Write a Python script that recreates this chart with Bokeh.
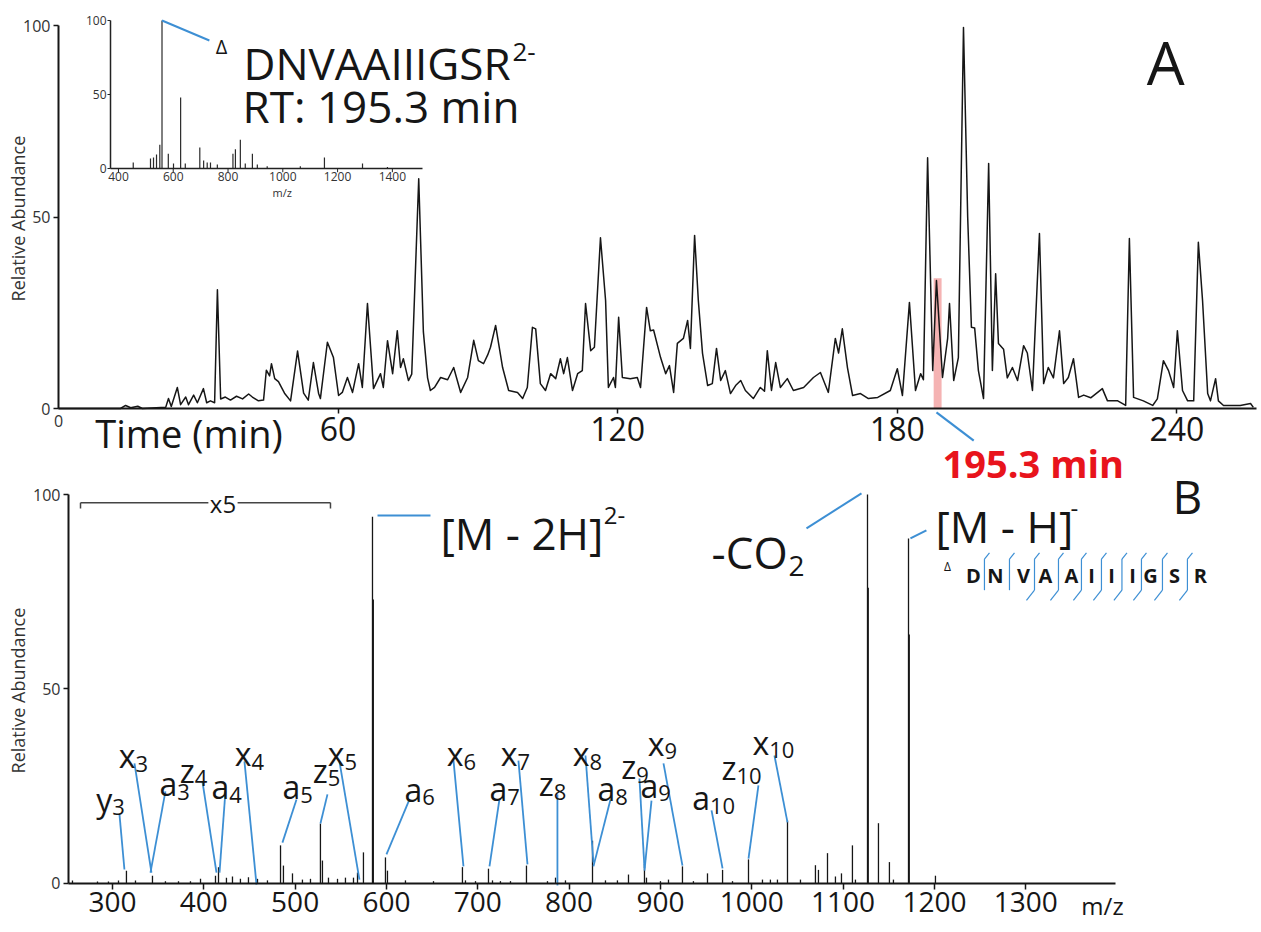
import math
from bokeh.plotting import figure
from bokeh.models import Range1d, LinearAxis, FixedTicker
from bokeh.core.properties import value
from bokeh.embed import file_html
from bokeh.resources import INLINE

FONT = "Open Sans"
INK = "#161616"
GREY = "#333333"
BLUE = "#3d8fd4"
RED = "#e8141c"

# ---------------- Panel A : base-peak chromatogram ----------------
time_min = [
    0, 13.3, 14.4, 15.5, 17.0, 18.0, 23.0, 23.6, 24.2, 25.5,
    26.2, 27.3, 27.9, 29.0, 29.8, 31.1, 31.8, 32.6, 33.5, 34.1,
    34.8, 35.8, 36.9, 38.2, 39.5, 40.8, 41.6, 42.9, 44.0, 44.6,
    45.3, 45.7, 46.4, 47.2, 48.5, 49.8, 51.3, 52.6, 53.6, 54.7,
    55.8, 56.2, 57.7, 59.0, 60.1, 60.9, 62.0, 63.1, 64.4, 65.2,
    66.3, 67.6, 69.1, 69.7, 70.6, 71.7, 72.7, 73.4, 74.0, 75.1,
    75.8, 77.3, 78.3, 79.2, 79.8, 80.7, 82.0, 83.5, 84.8, 86.3,
    87.8, 89.1, 90.1, 91.2, 92.1, 92.7, 93.8, 95.3, 96.6, 98.5,
    99.6, 100.6, 101.7, 102.4, 103.4, 104.5, 105.6, 106.7, 107.7, 108.4,
    109.2, 110.3, 111.4, 112.4, 113.1, 114.2, 115.0, 116.3, 117.4, 118.0,
    119.1, 119.5, 120.2, 121.0, 122.7, 124.2, 124.9, 126.2, 127.0, 127.7,
    129.2, 130.3, 131.1, 132.0, 132.8, 134.1, 135.0, 135.6, 136.5, 137.3,
    138.2, 139.3, 140.3, 141.2, 142.1, 143.1, 144.2, 145.3, 146.4, 147.4,
    149.1, 150.6, 151.5, 152.1, 153.0, 153.9, 154.9, 156.4, 157.7, 159.9,
    162.0, 163.5, 165.2, 166.7, 167.4, 168.2, 169.3, 170.4, 172.1, 173.8,
    175.8, 178.5, 180.0, 181.1, 182.6, 183.9, 185.0, 185.6, 186.5, 187.6,
    188.4, 189.7, 190.8, 191.2, 192.1, 193.1, 194.2, 195.1, 195.9, 196.6,
    197.4, 198.5, 199.6, 200.4, 201.1, 201.7, 202.8, 203.6, 204.7, 205.8,
    207.1, 207.9, 209.0, 210.5, 211.4, 212.4, 213.5, 214.8, 215.7, 216.7,
    217.8, 218.9, 220.0, 221.5, 224.0, 225.1, 227.3, 229.0, 229.8, 230.7,
    232.8, 234.8, 235.8, 237.1, 238.2, 239.3, 240.1, 241.2, 242.3, 243.6,
    244.6, 245.5, 246.6, 247.2, 248.3, 248.9, 250.0, 253.6, 255.8, 256.4,
]
abundance = [
    0, 0, 0.8, 0.2, 0.6, 0, 0.3, 2.6, 0.5, 5.5,
    1.0, 3.0, 1.0, 3.5, 1.5, 5.2, 1.5, 2.0, 1.5, 31.0,
    2.5, 3.0, 2.2, 3.2, 2.5, 3.8, 3.0, 2.0, 2.2, 10.0,
    8.5, 11.7, 7.8, 7.0, 4.0, 2.0, 15.0, 4.0, 2.2, 12.0,
    4.0, 2.6, 17.3, 13.3, 3.4, 4.2, 8.1, 4.2, 11.7, 5.5,
    27.4, 5.2, 9.1, 5.5, 17.7, 9.1, 20.3, 10.7, 13.0, 7.3,
    9.0, 60.0, 20.0, 8.0, 4.7, 5.5, 8.1, 7.5, 10.7, 4.2,
    8.1, 17.8, 12.5, 11.7, 14.0, 16.0, 21.7, 10.7, 4.7, 4.2,
    2.6, 5.5, 21.2, 20.8, 6.5, 4.7, 9.1, 7.8, 13.0, 9.1,
    13.3, 4.7, 9.1, 9.9, 27.4, 15.1, 16.0, 44.6, 28.2, 5.5,
    8.1, 5.5, 23.8, 8.1, 7.8, 8.1, 5.5, 26.4, 20.3, 20.5,
    13.3, 9.1, 11.2, 4.2, 17.0, 18.3, 23.0, 15.7, 45.2, 28.2,
    14.4, 6.0, 6.5, 15.7, 7.3, 9.9, 3.9, 6.0, 7.3, 4.7,
    2.6, 5.5, 4.5, 15.1, 4.7, 12.0, 5.5, 7.8, 4.7, 5.5,
    8.1, 9.4, 4.2, 18.3, 14.5, 20.8, 10.7, 3.4, 3.9, 2.6,
    2.9, 4.7, 10.4, 3.4, 27.7, 4.7, 9.1, 7.5, 65.5, 9.9,
    33.4, 8.1, 18.3, 27.4, 7.3, 13.3, 99.5, 50.0, 21.2, 21.0,
    9.9, 2.6, 64.0, 9.9, 35.2, 17.0, 15.5, 8.0, 10.7, 7.3,
    16.4, 14.5, 4.7, 45.7, 6.5, 10.7, 8.0, 20.3, 6.5, 8.1,
    13.0, 2.9, 3.5, 2.8, 5.2, 2.0, 2.0, 0.8, 44.4, 2.9,
    2.0, 0.8, 2.5, 12.5, 9.9, 5.5, 20.3, 4.7, 2.0, 2.0,
    43.4, 28.2, 3.9, 2.0, 7.8, 2.0, 0.8, 0.8, 1.3, 0.3,
]
time_ticks = [60, 120, 180, 240]
abundance_ticks = [0, 50, 100]
selected_rt_left = [187.8]
selected_rt_right = [189.5]
selected_rt_top = [34.0]

# inset : MS1 spectrum of the selected precursor
inset_mz = [454, 517, 528, 539, 551, 559, 582, 601, 627, 644,
            697, 711, 724, 736, 761, 818, 827, 845, 863, 889,
            907, 943, 1064, 1152, 1291, 1382]
inset_intensity = [4.0, 6.8, 7.5, 9.5, 16.0, 100.0, 10.0, 3.4, 48.0, 3.4,
                   14.2, 5.4, 4.0, 4.0, 2.7, 10.0, 13.0, 19.4, 3.4, 10.0,
                   2.7, 1.5, 1.5, 7.5, 3.4, 1.0]
inset_mz_ticks = [400, 600, 800, 1000, 1200, 1400]
inset_ab_ticks = [0, 50, 100]

# ---------------- Panel B : MS/MS spectrum ----------------
spec_mz = [
    256.2, 283.6, 295.6, 306.6, 315.3, 325.2, 343.8, 358.0, 372.3, 385.4,
    396.4, 412.8, 416.1, 424.8, 431.4, 440.1, 448.9, 458.8, 469.7, 484.0,
    487.2, 497.1, 508.0, 516.8, 527.7, 529.9, 536.5, 546.4, 555.1, 563.9,
    568.3, 574.8, 584.7, 585.6, 598.9, 601.1, 620.8, 651.5, 683.2, 686.5,
    697.5, 711.7, 716.1, 724.8, 735.8, 753.3, 776.3, 785.1, 796.0, 825.6,
    839.8, 852.9, 865.0, 882.5, 884.7, 900.0, 908.8, 924.1, 936.1, 951.5,
    968.0, 978.9, 996.4, 1011.7, 1020.4, 1028.1, 1039.1, 1053.3, 1069.7, 1073.0,
    1082.9, 1091.6, 1098.2, 1110.2, 1113.5, 1126.7, 1127.5, 1138.7, 1150.7, 1155.1,
    1171.6, 1172.4, 1201.1,
]
spec_intensity = [
    0.8, 0.5, 0.5, 0.8, 3.3, 0.8, 2.0, 0.6, 0.6, 0.6,
    1.2, 2.0, 4.2, 1.5, 1.8, 1.2, 1.6, 1.2, 0.8, 9.8,
    4.6, 2.6, 1.0, 1.2, 15.4, 5.9, 1.5, 1.2, 1.5, 1.5,
    2.8, 8.0, 94.3, 73.0, 6.7, 3.3, 0.8, 0.6, 4.2, 0.8,
    0.6, 3.8, 0.8, 0.6, 0.6, 4.6, 0.6, 1.5, 0.8, 11.0,
    0.8, 0.8, 2.3, 5.0, 1.5, 0.6, 1.0, 4.4, 0.6, 2.6,
    3.5, 0.6, 6.2, 1.0, 1.0, 1.0, 16.2, 1.0, 4.7, 3.5,
    7.8, 1.8, 2.6, 9.8, 1.0, 100.0, 76.0, 15.5, 5.5, 1.0,
    88.7, 64.0, 2.0,
]
mz_ticks = [300, 400, 500, 600, 700, 800, 900, 1000, 1100, 1200, 1300]

# fragment-ion annotations (label position, leader start, leader end at the peak)
ion_labels = ["y3", "x3", "a3", "z4", "a4", "x4", "a5", "z5", "x5", "a6", "x6",
              "a7", "x7", "z8", "x8", "a8", "z9", "a9", "x9", "a10", "z10", "x10"]
label_mz = [297.8, 323.0, 367.9, 388.7, 424.8, 450.0, 502.6, 534.3, 551.8, 636.1, 682.1,
            729.2, 741.2, 781.8, 820.1, 847.5, 872.0, 894.6, 902.2, 958.0, 988.7, 1023.7]
label_ab = [21.6, 32.9, 25.7, 29.1, 24.9, 33.4, 24.9, 29.1, 33.4, 24.2, 33.4,
            24.4, 33.4, 25.7, 33.4, 24.4, 30.0, 25.2, 36.0, 22.1, 29.8, 36.3]
leader_from_mz = [307.7, 324.1, 358.0, 398.5, 423.7, 444.5, 501.5, 535.4, 548.5, 625.2, 673.4,
                  723.7, 744.5, 787.2, 817.9, 845.3, 877.0, 890.2, 903.3, 955.9, 1007.3, 1024.8]
leader_from_ab = [17.7, 30.9, 23.7, 26.2, 23.7, 31.4, 21.6, 22.9, 31.4, 21.6, 31.6,
                  21.6, 31.6, 22.9, 32.9, 21.6, 27.0, 21.3, 30.9, 18.8, 25.2, 32.9]
leader_to_mz = [313.1, 342.7, 341.6, 413.9, 417.2, 457.7, 486.1, 527.7, 570.4, 600.0, 684.3,
                712.8, 754.4, 787.2, 826.6, 826.6, 882.5, 882.5, 924.1, 968.0, 996.4, 1039.1]
leader_to_ab = [3.6, 2.8, 2.8, 2.8, 2.8, -0.3, 10.5, 15.4, 1.0, 7.5, 4.4,
                4.4, 4.9, -0.5, 5.4, 4.4, 3.9, 3.3, 4.6, 3.9, 6.4, 15.7]

peptide = ["D", "N", "V", "A", "A", "I", "I", "I", "G", "S", "R"]
residue_mz = [1242.7, 1266.8, 1297.5, 1321.6, 1350.0, 1371.9, 1393.8, 1416.8, 1436.5, 1462.8, 1491.2]
residue_ab = 79.2


def style_axis(ax, font_size, color=INK, label_color=GREY, tick_out=5, line=True):
    ax.major_label_text_font = FONT
    ax.major_label_text_font_size = font_size
    ax.major_label_text_color = label_color
    ax.major_tick_in = 0
    ax.major_tick_out = tick_out
    ax.minor_tick_in = 0
    ax.minor_tick_out = 0
    ax.axis_line_width = 2
    ax.axis_line_color = color if line else None
    ax.major_tick_line_width = 1.5
    ax.major_tick_line_color = color if tick_out else None
    ax.major_label_standoff = 3
    return ax


def txt(fig, x, y, s, size, align="left", baseline="middle", color=INK, style="normal", **kw):
    fig.text(x=x, y=y, text=s, text_font=value(FONT), text_font_size=value(size),
             text_align=align, text_baseline=baseline, text_color=color,
             text_font_style=style, **kw)


# One canvas: panel A on the default ranges, panel B on extra ranges
p = figure(width=1261, height=932, x_range=Range1d(-12.446, 258.15),
           y_range=Range1d(-136.81, 106.53), x_axis_type=None, y_axis_type=None,
           title=None, output_backend="svg", toolbar_location=None, min_border=0)
p.outline_line_color = None
p.extra_x_ranges = {"mz": Range1d(177.4, 1558.1)}
p.extra_y_ranges = {"abB": Range1d(-12.6, 227.0)}
B = dict(x_range_name="mz", y_range_name="abB")

# ======================= Panel A =======================
ax_t = style_axis(LinearAxis(ticker=FixedTicker(ticks=time_ticks), fixed_location=0,
                             bounds=(0, 257)), "32px", label_color=INK, tick_out=5)
p.add_layout(ax_t, "below")
ax_t0 = style_axis(LinearAxis(ticker=FixedTicker(ticks=[0]), fixed_location=0),
                   "16px", label_color=GREY, tick_out=0, line=False)
ax_t0.major_label_standoff = 6
p.add_layout(ax_t0, "below")
ax_ya = style_axis(LinearAxis(ticker=FixedTicker(ticks=abundance_ticks), fixed_location=0,
                              bounds=(0, 100)), "16px")
p.add_layout(ax_ya, "left")
txt(p, [-8.6], [49.6], ["Relative Abundance"], "18px", align="center", color=GREY,
    angle=math.pi / 2)

p.quad(left=selected_rt_left, right=selected_rt_right, bottom=[0], top=selected_rt_top,
       fill_color="#f29a9a", fill_alpha=0.75, line_color=None)
p.line(time_min, abundance, line_color=INK, line_width=1.5, line_join="round")

txt(p, [28.0], [-6.3], ["Time (min)"], "38px", align="center")
p.segment(x0=[188.4], y0=[-1.0], x1=[196.4], y1=[-8.4], line_color=BLUE, line_width=2.2)
txt(p, [189.7], [-14.1], ["195.3 min"], "38px", color=RED, style="bold")
txt(p, [237.6], [90.6], ["A"], "60px", align="center")
txt(p, [35.0], [94.5], ["\u0394"], "20px", align="center")
txt(p, [39.7], [90.3], ["DNVAAIIIGSR"], "44px")
txt(p, [97.4], [93.0], ["2-"], "26px")
txt(p, [39.5], [79.1], ["RT: 195.3 min"], "44px")

# inset
ins = p.subplot(x_source=Range1d(371, 1510), y_source=Range1d(0, 100),
                x_target=Range1d(11.16, 78.11), y_target=Range1d(62.66, 101.31))
ins.segment(x0=inset_mz, y0=0, x1=inset_mz, y1=inset_intensity, line_color="#2a2a2a", line_width=1.2)
ins.segment(x0=[371, 371], y0=[0, 0], x1=[1510, 371], y1=[0, 100], line_color="#222222", line_width=1.5)
ins.segment(x0=inset_mz_ticks, y0=0, x1=inset_mz_ticks, y1=-2.5, line_color="#222222", line_width=1)
ins.segment(x0=371, y0=inset_ab_ticks, x1=360, y1=inset_ab_ticks, line_color="#222222", line_width=1)
ins.text(x=inset_mz_ticks, y=0, text=[str(t) for t in inset_mz_ticks], text_font=value(FONT),
         text_font_size=value("12px"), text_align="center", text_baseline="top",
         text_color=GREY, y_offset=3)
ins.text(x=371, y=inset_ab_ticks, text=[str(t) for t in inset_ab_ticks], text_font=value(FONT),
         text_font_size=value("12px"), text_align="right", text_baseline="middle",
         text_color=GREY, x_offset=-4)
ins.text(x=[998], y=[0], text=["m/z"], text_font=value(FONT), text_font_size=value("11px"),
         text_align="center", text_baseline="top", text_color=GREY, y_offset=16)
ins.segment(x0=[559], y0=[100], x1=[732], y1=[86.5], line_color=BLUE, line_width=2)

# ======================= Panel B =======================
ax_mz = style_axis(LinearAxis(ticker=FixedTicker(ticks=mz_ticks), fixed_location=0,
                              bounds=(251.8, 1398), **B), "28px", label_color=INK, tick_out=6)
p.add_layout(ax_mz, "below")
ax_yb = style_axis(LinearAxis(ticker=FixedTicker(ticks=abundance_ticks), fixed_location=251.8,
                              bounds=(0, 100), **B), "16px")
p.add_layout(ax_yb, "left")
txt(p, [197.1], [49.6], ["Relative Abundance"], "18px", align="center", color=GREY,
    angle=math.pi / 2, **B)

p.segment(x0=spec_mz, y0=0, x1=spec_mz, y1=spec_intensity, line_color=INK, line_width=1.3, **B)

# x5 bracket
p.segment(x0=[265, 437], y0=[97.9, 97.9], x1=[405, 538.7], y1=[97.9, 97.9],
          line_color="#444444", line_width=1.5, **B)
p.segment(x0=[265, 538.7], y0=[97.9, 97.9], x1=[265, 538.7], y1=[96.4, 96.4],
          line_color="#444444", line_width=1.5, **B)
txt(p, [421], [97.7], ["x5"], "24px", align="center", **B)

# ion labels with leaders
p.segment(x0=leader_from_mz, y0=leader_from_ab, x1=leader_to_mz, y1=leader_to_ab,
          line_color=BLUE, line_width=1.8, **B)
letters = [s[0] for s in ion_labels]
numbers = [s[1:] for s in ion_labels]
letter_w = {"x": 16.5, "a": 18.0, "y": 16.0, "z": 15.0}
anchor_off = [(letter_w[l] - 12.5 * len(n)) / 2 for l, n in zip(letters, numbers)]
txt(p, label_mz, label_ab, letters, "32px", align="right", x_offset=anchor_off, **B)
txt(p, label_mz, label_ab, numbers, "22px", align="left", x_offset=anchor_off, y_offset=8, **B)

# precursor annotations
p.segment(x0=[590.2, 1059.9, 1173.7], y0=[94.6, 91.3, 88.7],
          x1=[648.2, 1120.1, 1191.2], y1=[94.6, 100.3, 90.8], line_color=BLUE, line_width=2, **B)
txt(p, [659.1], [90.2], ["[M - 2H]"], "44px", **B)
txt(p, [838.0], [94.6], ["2-"], "24px", **B)
txt(p, [955.9], [85.3], ["-CO"], "44px", **B)
txt(p, [1040.2], [81.7], ["2"], "28px", **B)
txt(p, [1201.1], [91.8], ["[M - H]"], "44px", **B)
txt(p, [1349.0], [96.4], ["-"], "24px", **B)
txt(p, [1477.0], [99.6], ["B"], "46px", align="center", **B)

# peptide fragmentation scheme
txt(p, [1214.2], [81.5], ["\u0394"], "12px", align="center", **B)
txt(p, residue_mz, [residue_ab] * len(peptide), peptide, "20px", align="center", style="bold", **B)
gaps = [(a + b) / 2 for a, b in zip(residue_mz[:-1], residue_mz[1:])]
top_y, bot_y = 83.4, 75.4
p.segment(x0=gaps, y0=top_y, x1=gaps, y1=bot_y, line_color=BLUE, line_width=1.2, **B)
p.segment(x0=gaps, y0=top_y, x1=[g + 5.5 for g in gaps], y1=top_y + 1.6,
          line_color=BLUE, line_width=1.2, **B)
a_gaps = gaps[2:]
p.segment(x0=a_gaps, y0=bot_y, x1=[g - 8.8 for g in a_gaps], y1=bot_y - 2.6,
          line_color=BLUE, line_width=1.2, **B)

txt(p, [1384], [-5.7], ["m/z"], "24px", align="center", **B)

open("out.html", "w").write(file_html(p, INLINE))
